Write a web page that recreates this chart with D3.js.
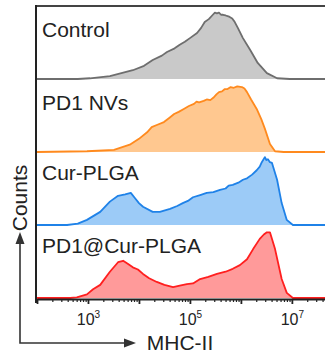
<!DOCTYPE html>
<html>
<head>
<meta charset="utf-8">
<script src="https://cdn.jsdelivr.net/npm/d3@7"></script>
<style>
	body { margin: 0; background: #fff; }
	svg { display: block; font-family: "Liberation Sans", Arial, sans-serif; }
</style>
</head>
<body>
<div id="chart"></div>
<script>
// histogram outlines: [log10(MHC-II), relative count]
const control = [[2, 0], [2.8, 0], [3.04, 0.01], [3.43, 0.04], [3.88, 0.12], [4.1, 0.18], [4.27, 0.26], [4.45, 0.32], [4.55, 0.37],
	[4.7, 0.42], [4.8, 0.47], [4.9, 0.51], [5.0, 0.56], [5.14, 0.63], [5.22, 0.7], [5.29, 0.78], [5.37, 0.82], [5.45, 0.88],
	[5.49, 0.91], [5.53, 0.9], [5.57, 0.91], [5.61, 0.88], [5.65, 0.88], [5.7, 0.87], [5.74, 0.86], [5.78, 0.85], [5.83, 0.83],
	[5.88, 0.78], [5.94, 0.7], [6.04, 0.56], [6.18, 0.4], [6.33, 0.22], [6.51, 0.08], [6.71, 0.01], [6.96, 0], [7.65, 0]];
const pd1NVs = [[2, 0], [2.98, 0.01], [3.51, 0.03], [3.82, 0.1], [4.0, 0.18], [4.16, 0.27], [4.25, 0.34], [4.35, 0.37], [4.49, 0.41],
	[4.6, 0.47], [4.69, 0.52], [4.78, 0.55], [4.88, 0.59], [4.98, 0.63], [5.08, 0.66], [5.13, 0.69], [5.18, 0.68], [5.27, 0.7],
	[5.33, 0.72], [5.4, 0.71], [5.47, 0.75], [5.52, 0.79], [5.57, 0.82], [5.63, 0.83], [5.68, 0.86], [5.73, 0.86], [5.8, 0.89],
	[5.86, 0.88], [5.93, 0.9], [6.02, 0.89], [6.07, 0.87], [6.12, 0.82], [6.2, 0.72], [6.31, 0.59], [6.4, 0.45], [6.47, 0.32],
	[6.57, 0.11], [6.67, 0.01], [6.84, 0], [7.65, 0]];
const curPLGA = [[2, 0], [2.59, 0], [2.8, 0.02], [2.98, 0.07], [3.24, 0.18], [3.43, 0.32], [3.59, 0.4], [3.73, 0.42], [3.84, 0.44],
	[3.92, 0.37], [4.0, 0.3], [4.08, 0.25], [4.27, 0.18], [4.41, 0.18], [4.61, 0.22], [4.75, 0.26], [4.86, 0.3], [4.96, 0.33],
	[5.06, 0.38], [5.2, 0.41], [5.33, 0.44], [5.46, 0.45], [5.59, 0.48], [5.7, 0.5], [5.76, 0.54], [5.84, 0.55], [5.95, 0.58],
	[6.04, 0.62], [6.12, 0.64], [6.22, 0.69], [6.31, 0.75], [6.37, 0.8], [6.41, 0.86], [6.47, 0.93], [6.5, 0.89], [6.53, 0.9],
	[6.57, 0.86], [6.61, 0.85], [6.71, 0.62], [6.8, 0.3], [6.9, 0.07], [7.02, 0], [7.65, 0]];
const pd1CurPLGA = [[2, 0], [2.65, 0], [2.78, 0.01], [2.98, 0.05], [3.1, 0.12], [3.24, 0.18], [3.43, 0.36], [3.59, 0.49], [3.69, 0.51],
	[3.78, 0.47], [3.88, 0.42], [3.98, 0.39], [4.08, 0.33], [4.2, 0.27], [4.35, 0.22], [4.5, 0.18], [4.67, 0.15], [4.8, 0.17],
	[4.94, 0.19], [5.06, 0.2], [5.2, 0.26], [5.36, 0.29], [5.53, 0.33], [5.7, 0.36], [5.84, 0.4], [5.98, 0.45], [6.12, 0.53],
	[6.24, 0.67], [6.37, 0.81], [6.45, 0.87], [6.51, 0.9], [6.57, 0.9], [6.67, 0.67], [6.8, 0.26], [6.9, 0.07], [7.02, 0], [7.65, 0]];

const names = ["Control", "PD1 NVs", "Cur-PLGA", "PD1@Cur-PLGA"];
const series = [control, pd1NVs, curPLGA, pd1CurPLGA];
const lineColors = ["#6e6e6e", "#ff8a1e", "#1f82e8", "#ff1f1f"];
const fillColors = ["#c9c9c9", "#ffc890", "#9ccbf7", "#ff9a9a"];
const labelPowers = [3, 5, 7];

const width = 325, height = 358;
const plotLeft = 37, plotRight = 325, plotTop = 6, panelH = 73;

const svg = d3.select("#chart").append("svg")
	.attr("width", width)
	.attr("height", height);

const x = d3.scaleLog().domain([1e2, Math.pow(10, 7.65)]).range([plotLeft, plotRight]);
const plotBottom = plotTop + panelH * series.length;

// panels
series.forEach((data, i) => {
	const base = plotTop + panelH * (i + 1);
	const y = d3.scaleLinear().domain([0, 1]).range([base, base - panelH]);
	const area = d3.area()
		.x(d => x(Math.pow(10, d[0])))
		.y0(base)
		.y1(d => y(d[1]));
	const line = d3.line()
		.x(d => x(Math.pow(10, d[0])))
		.y(d => y(d[1]));
	svg.append("path")
		.attr("d", area(data))
		.attr("fill", fillColors[i]);
	svg.append("path")
		.attr("d", line(data))
		.attr("fill", "none")
		.attr("stroke", lineColors[i])
		.attr("stroke-width", 1.8)
		.attr("stroke-linejoin", "round");
	svg.append("text")
		.attr("x", 42)
		.attr("y", base - panelH + (i < 2 ? 31 : 28))
		.attr("font-size", 21)
		.attr("fill", "#222")
		.text(names[i]);
});

// frame
svg.append("line")
	.attr("x1", plotLeft).attr("x2", plotRight)
	.attr("y1", plotTop).attr("y2", plotTop)
	.attr("stroke", "#444").attr("stroke-width", 2);
svg.append("line")
	.attr("x1", plotLeft - 1).attr("x2", plotLeft - 1)
	.attr("y1", plotTop - 1).attr("y2", plotBottom + 5)
	.attr("stroke", "#222").attr("stroke-width", 2);

// x axis
const majors = d3.range(2, 8).map(p => Math.pow(10, p));
const minors = [];
majors.forEach(m => { for (let k = 2; k <= 9; k++) if (m * k <= x.domain()[1]) minors.push(m * k); });

svg.append("g")
	.attr("transform", `translate(0,${plotBottom + 1})`)
	.call(d3.axisBottom(x).tickValues(minors).tickSize(3).tickFormat(""))
	.call(g => g.select(".domain").remove())
	.call(g => g.selectAll("line").attr("stroke", "#222").attr("stroke-width", 1.2));

const ax = svg.append("g")
	.attr("transform", `translate(0,${plotBottom + 1})`)
	.call(d3.axisBottom(x).tickValues(majors).tickSize(5).tickSizeOuter(0).tickFormat(""));
ax.select(".domain").attr("stroke", "#222").attr("stroke-width", 2);
ax.selectAll("line").attr("stroke", "#222").attr("stroke-width", 1.8);

ax.selectAll(".tick")
	.filter(d => labelPowers.includes(Math.round(Math.log10(d))))
	.append("text")
	.attr("y", 26)
	.attr("fill", "#222")
	.attr("font-size", 16)
	.attr("text-anchor", "middle")
	.call(t => t.append("tspan").text("10"))
	.call(t => t.append("tspan")
		.attr("font-size", 10)
		.attr("dy", -7)
		.text(d => Math.round(Math.log10(d))));

// axis arrows
const arrowX = 20, arrowY = 343;
svg.append("path")
	.attr("d", `M${arrowX},240 V${arrowY} H128`)
	.attr("fill", "none")
	.attr("stroke", "#333")
	.attr("stroke-width", 1.6);
svg.append("path")
	.attr("d", `M${arrowX},232 L${arrowX - 4.5},244 L${arrowX + 4.5},244 Z`)
	.attr("fill", "#333");
svg.append("path")
	.attr("d", `M136,${arrowY} L124,${arrowY - 4.5} L124,${arrowY + 4.5} Z`)
	.attr("fill", "#333");

svg.append("text")
	.attr("transform", `translate(27,198) rotate(-90)`)
	.attr("text-anchor", "middle")
	.attr("font-size", 21)
	.attr("fill", "#222")
	.text("Counts");
svg.append("text")
	.attr("x", 180)
	.attr("y", 350)
	.attr("text-anchor", "middle")
	.attr("font-size", 21)
	.attr("fill", "#222")
	.text("MHC-II");
</script>
</body>
</html>
